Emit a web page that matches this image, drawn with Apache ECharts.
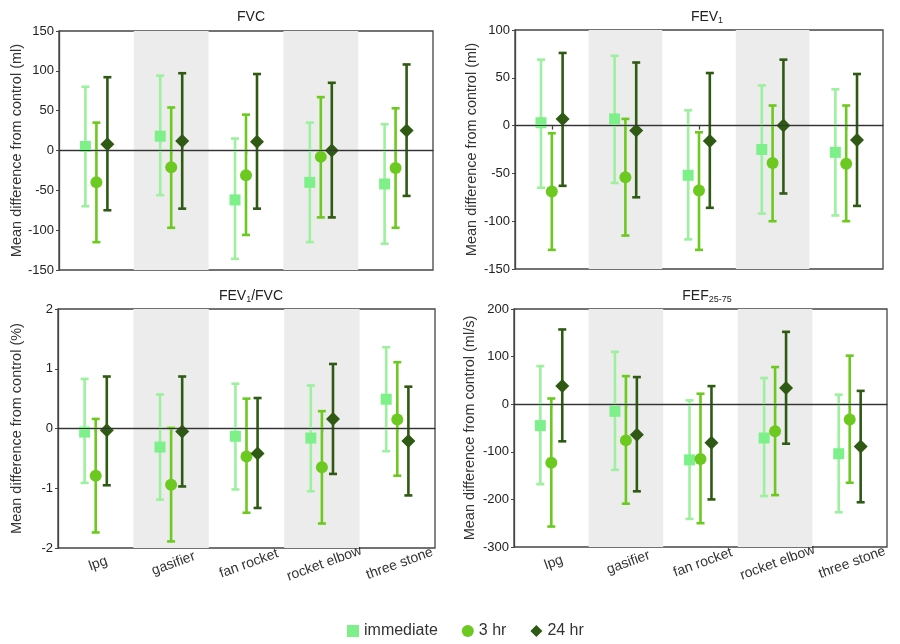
<!DOCTYPE html>
<html><head><meta charset="utf-8">
<script src="https://cdn.jsdelivr.net/npm/echarts@6/dist/echarts.min.js"></script>
<style>html,body{margin:0;padding:0;background:#fff}#c{width:900px;height:644px}</style>
</head><body><div id="c"></div>
<script>
const categories = ['lpg','gasifier','fan rocket','rocket elbow','three stone'];
const seriesNames = ['immediate','3 hr','24 hr'];
// [mean, lower CI, upper CI] per category
const fvcImmediate = [[5,-70,80],[18,-56,94],[-62,-136,15],[-40,-115,35],[-42,-117,33]];
const fvc3hr       = [[-40,-115,35],[-21,-97,54],[-31,-106,45],[-8,-84,67],[-22,-97,53]];
const fvc24hr      = [[8,-75,92],[12,-73,97],[11,-73,96],[0,-84,85],[25,-57,108]];
const fev1Immediate = [[3,-65,69],[7,-60,73],[-52,-119,16],[-25,-92,42],[-28,-94,38]];
const fev13hr       = [[-69,-130,-8],[-54,-115,7],[-68,-130,-7],[-39,-100,21],[-40,-100,21]];
const fev124hr      = [[7,-63,76],[-5,-75,66],[-16,-86,55],[0,-71,69],[-15,-84,54]];
const ratioImmediate = [[-0.06,-0.91,0.83],[-0.31,-1.19,0.57],[-0.13,-1.02,0.75],[-0.16,-1.05,0.72],[0.49,-0.38,1.36]];
const ratio3hr       = [[-0.79,-1.74,0.16],[-0.94,-1.89,0.01],[-0.47,-1.41,0.5],[-0.65,-1.59,0.29],[0.15,-0.79,1.11]];
const ratio24hr      = [[-0.03,-0.95,0.87],[-0.05,-0.97,0.87],[-0.42,-1.33,0.51],[0.16,-0.76,1.08],[-0.21,-1.12,0.7]];
const fefImmediate = [[-45,-168,80],[-15,-138,110],[-117,-241,8],[-71,-193,55],[-104,-227,20]];
const fef3hr       = [[-123,-257,12],[-76,-209,59],[-115,-250,22],[-57,-191,78],[-32,-165,102]];
const fef24hr      = [[38,-78,157],[-64,-183,57],[-81,-200,38],[34,-83,152],[-89,-206,28]];

const colors = ['#7ef08a','#6cc91f','#2e5a13'];
const barColors = ['#9cf09e','#6cc91f','#2e5a13'];
const offsets = [-0.147, 0, 0.147];
const shapes = ['square','circle','diamond'];
const FONT = 'Liberation Sans, Arial, sans-serif';

const panels = [
  {data:[fvcImmediate,fvc3hr,fvc24hr], min:-150, max:150, interval:50, name:'Mean difference from control (ml)', grid:{left:59,top:31,width:374,height:239}, labels:false, nameGap:34},
  {data:[fev1Immediate,fev13hr,fev124hr], min:-150, max:100, interval:50, name:'Mean difference from control (ml)', grid:{left:515,top:30,width:368,height:239}, labels:false, nameGap:36},
  {data:[ratioImmediate,ratio3hr,ratio24hr], min:-2, max:2, interval:1, name:'Mean difference from control (%)', grid:{left:58,top:309,width:377,height:239}, labels:true, nameGap:34},
  {data:[fefImmediate,fef3hr,fef24hr], min:-300, max:200, interval:100, name:'Mean difference from control (ml/s)', grid:{left:514,top:309,width:373,height:238}, labels:true, nameGap:37}
];

function makeRender(si){
  return function(params, api){
    const ci = api.value(0);
    const band = api.size([1,0])[0];
    const dx = band*offsets[si];
    const pm = api.coord([ci, api.value(1)]);
    const pl = api.coord([ci, api.value(2)]);
    const ph = api.coord([ci, api.value(3)]);
    const x = pm[0]+dx;
    const cap = 4;
    const ls = {stroke: barColors[si], lineWidth: 2.6};
    const children = [
      {type:'line', shape:{x1:x,y1:pl[1],x2:x,y2:ph[1]}, style:ls},
      {type:'line', shape:{x1:x-cap,y1:pl[1],x2:x+cap,y2:pl[1]}, style:ls},
      {type:'line', shape:{x1:x-cap,y1:ph[1],x2:x+cap,y2:ph[1]}, style:ls}
    ];
    const y = pm[1];
    if (shapes[si]==='square') {
      children.push({type:'rect', shape:{x:x-5.5,y:y-5.5,width:11,height:11}, style:{fill:colors[si]}});
    } else if (shapes[si]==='circle') {
      children.push({type:'circle', shape:{cx:x,cy:y,r:6}, style:{fill:colors[si]}});
    } else {
      children.push({type:'polygon', shape:{points:[[x,y-7],[x+7,y],[x,y+7],[x-7,y]]}, style:{fill:colors[si]}});
    }
    return {type:'group', children};
  };
}

const grids=[], xAxes=[], yAxes=[], series=[];
panels.forEach((p,gi)=>{
  grids.push(Object.assign({show:true, borderColor:'#444', borderWidth:1.3, backgroundColor:'transparent', containLabel:false}, p.grid));
  xAxes.push({
    type:'category', gridIndex:gi, data:categories,
    axisLine:{show:true, lineStyle:{color:'#444', width:1.3}},
    axisTick:{show:true, alignWithLabel:true, length:4, lineStyle:{color:'#444', width:1.3}},
    axisLabel:{show:p.labels, rotate:20, align:'center', verticalAlign:'top', fontSize:14, color:'#333', fontFamily:FONT, margin:9},
    splitArea:{show:true, areaStyle:{color:['rgba(255,255,255,0)','#ececec']}},
    splitLine:{show:false}
  });
  yAxes.push({
    type:'value', gridIndex:gi, min:p.min, max:p.max, interval:p.interval,
    name:p.name, nameLocation:'middle', nameGap:p.nameGap, nameRotate:90,
    nameTextStyle:{fontSize:14.5, color:'#333', fontFamily:FONT},
    axisLine:{show:true, lineStyle:{color:'#444', width:1.3}},
    axisTick:{show:true, length:3, lineStyle:{color:'#444'}},
    axisLabel:{fontSize:13, color:'#222', fontFamily:FONT, margin:5},
    splitLine:{show:false}
  });
  series.push({
    type:'line', xAxisIndex:gi, yAxisIndex:gi, data:[], silent:true,
    markLine:{silent:true, symbol:'none', label:{show:false}, lineStyle:{color:'#333', width:1.2, type:'solid'}, data:[{yAxis:0}]}
  });
  p.data.forEach((arr,si)=>{
    series.push({
      type:'custom', name:seriesNames[si], xAxisIndex:gi, yAxisIndex:gi,
      itemStyle:{color:colors[si]},
      renderItem: makeRender(si),
      encode:{x:0, y:[1,2,3]},
      data: arr.map((v,ci)=>[ci, v[0], v[1], v[2]]),
      z:3
    });
  });
});

const titleStyle = {fontSize:14, fontWeight:'normal', color:'#222', fontFamily:FONT, rich:{s:{fontSize:9, color:'#222', fontFamily:FONT, verticalAlign:'bottom', padding:[6,0,0,0]}}};
const titles = [
  {text:'FVC', left:246, top:5},
  {text:'FEV{s|1}', left:702, top:5},
  {text:'FEV{s|1}/FVC', left:246, top:284},
  {text:'FEF{s|25-75}', left:702, top:284}
].map(t=>({text:t.text, left:t.left, top:t.top, textAlign:'center', textStyle:titleStyle}));

const chart = echarts.init(document.getElementById('c'), null, {renderer:'canvas'});
chart.setOption({
  animation:false,
  title: titles,
  grid: grids, xAxis: xAxes, yAxis: yAxes, series: series,
  legend:{
    top:618, left:342, itemGap:24, itemWidth:12, itemHeight:12,
    textStyle:{fontSize:16, color:'#333', fontFamily:FONT},
    data:[{name:'immediate', icon:'rect'},{name:'3 hr', icon:'circle'},{name:'24 hr', icon:'diamond'}]
  }
});
</script></body></html>
